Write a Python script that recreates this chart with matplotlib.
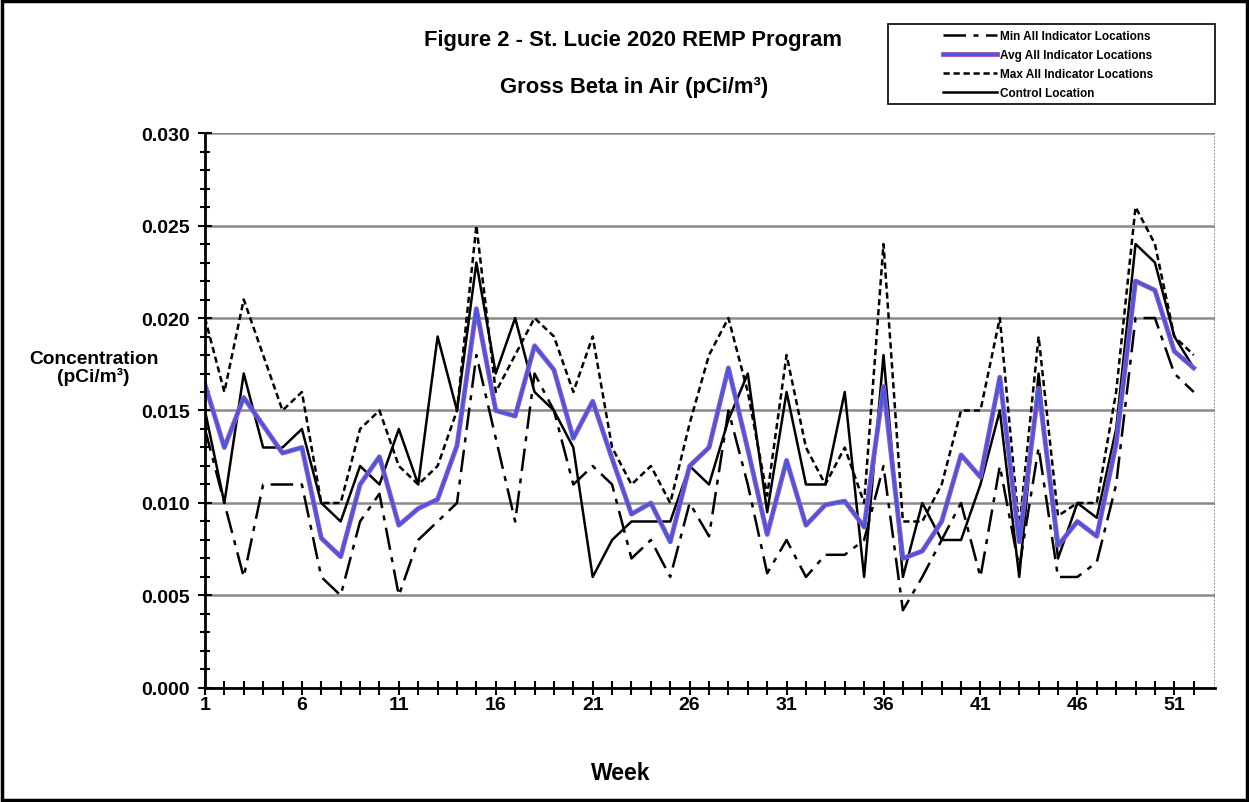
import numpy as np
import matplotlib
matplotlib.use("Agg")
import matplotlib.pyplot as plt
import matplotlib.patheffects as pe
from matplotlib.lines import Line2D
from matplotlib.patches import Rectangle
from matplotlib.ticker import MultipleLocator, FixedLocator, FormatStrFormatter

plt.rcParams['font.family'] = ['Liberation Sans', 'DejaVu Sans']

weeks = np.arange(1, 53)

min_all = [0.014, 0.010, 0.006, 0.011, 0.011, 0.011, 0.006, 0.005, 0.009, 0.0105,
           0.005, 0.008, 0.009, 0.010, 0.018, 0.0135, 0.009, 0.017, 0.015, 0.011,
           0.012, 0.011, 0.007, 0.008, 0.006, 0.010, 0.0082, 0.015, 0.011, 0.0062,
           0.008, 0.006, 0.0072, 0.0072, 0.008, 0.012, 0.0042, 0.006, 0.008, 0.010,
           0.006, 0.012, 0.0065, 0.013, 0.006, 0.006, 0.0068, 0.011, 0.020, 0.020,
           0.017, 0.016]

avg_all = [0.0164, 0.0130, 0.0157, 0.0142, 0.0127, 0.0130, 0.0081, 0.0071, 0.0110, 0.0125,
           0.0088, 0.0097, 0.0102, 0.0131, 0.0205, 0.0150, 0.0147, 0.0185, 0.0172, 0.0135,
           0.0155, 0.0124, 0.0094, 0.0100, 0.0079, 0.0120, 0.0130, 0.0173, 0.0129, 0.0083,
           0.0123, 0.0088, 0.0099, 0.0101, 0.0087, 0.0163, 0.0070, 0.0074, 0.0090, 0.0126,
           0.0114, 0.0168, 0.0079, 0.0162, 0.0077, 0.0090, 0.0082, 0.0132, 0.0220, 0.0215,
           0.0182, 0.0173]

max_all = [0.020, 0.016, 0.021, 0.018, 0.015, 0.016, 0.010, 0.010, 0.014, 0.015,
           0.012, 0.011, 0.012, 0.015, 0.025, 0.016, 0.018, 0.020, 0.019, 0.016,
           0.019, 0.013, 0.011, 0.012, 0.010, 0.0143, 0.018, 0.020, 0.016, 0.0104,
           0.018, 0.013, 0.011, 0.013, 0.010, 0.024, 0.009, 0.009, 0.011, 0.015,
           0.015, 0.020, 0.0086, 0.019, 0.0093, 0.010, 0.010, 0.016, 0.026, 0.024,
           0.019, 0.018]

control = [0.015, 0.010, 0.017, 0.013, 0.013, 0.014, 0.010, 0.009, 0.012, 0.011,
           0.014, 0.011, 0.019, 0.015, 0.023, 0.017, 0.020, 0.016, 0.015, 0.013,
           0.006, 0.008, 0.009, 0.009, 0.009, 0.012, 0.011, 0.0145, 0.017, 0.0095,
           0.016, 0.011, 0.011, 0.016, 0.006, 0.018, 0.006, 0.010, 0.008, 0.008,
           0.011, 0.015, 0.006, 0.017, 0.007, 0.010, 0.0092, 0.014, 0.024, 0.023,
           0.019, 0.0173]

week_labels = [1, 6, 11, 16, 21, 26, 31, 36, 41, 46, 51]

fig = plt.figure(figsize=(12.49, 8.03), dpi=100)
ax = fig.add_axes([0.1641, 0.142, 0.8087, 0.6911])

avg_fx = [pe.Stroke(linewidth=3.5, foreground='#a055b8'), pe.Normal()]
mindash = (0, (9, 3, 2, 3))
maxdash = (0, (2.5, 1.5))

ax.plot(weeks, min_all, color='black', lw=1.8, ls=mindash)
ax.plot(weeks, max_all, color='black', lw=1.8, ls=maxdash)
ax.plot(weeks, control, color='black', lw=1.8)
ax.plot(weeks, avg_all, color='#3f5ae6', lw=2.0, path_effects=avg_fx)

ax.set_xlim(1, 53.1)
ax.set_ylim(0, 0.030)
ax.yaxis.set_major_locator(MultipleLocator(0.005))
ax.yaxis.set_minor_locator(MultipleLocator(0.001))
ax.yaxis.set_major_formatter(FormatStrFormatter('%.3f'))
ax.xaxis.set_major_locator(FixedLocator(week_labels))
ax.xaxis.set_minor_locator(FixedLocator(weeks))
ax.tick_params(axis='both', which='major', labelsize=14)
for lab in ax.get_xticklabels() + ax.get_yticklabels():
    lab.set_fontweight('bold')
ax.tick_params(axis='both', which='both', direction='inout', width=1.5)
ax.tick_params(axis='y', which='major', length=10, pad=6)
ax.tick_params(axis='y', which='minor', length=7)
ax.tick_params(axis='x', which='both', length=10, pad=1)
ax.grid(axis='y', which='major', color='#8a8a8a', lw=1.8)
ax.set_axisbelow(True)
for s in ['top', 'right']:
    ax.spines[s].set_visible(False)
ax.spines['left'].set_linewidth(2)
ax.spines['bottom'].set_linewidth(2)
ax.axvline(53.1, color='#5a7a9a', lw=1.2, ls=(0, (1, 1)))

fig.text(0.507, 0.950, 'Figure 2 - St. Lucie 2020 REMP Program', ha='center',
         va='center', fontsize=15.8, fontweight='bold')
fig.text(0.508, 0.891, 'Gross Beta in Air (pCi/m\u00b3)', ha='center',
         va='center', fontsize=15.8, fontweight='bold')
fig.text(0.075, 0.541, 'Concentration\n(pCi/m\u00b3)', ha='center', va='center',
         fontsize=13.8, fontweight='bold', linespacing=1.05)
fig.text(0.497, 0.037, 'Week', ha='center', va='center', fontsize=16.5,
         fontweight='bold')

# legend box
fig.patches.append(Rectangle((0.711, 0.869), 0.262, 0.0996, transform=fig.transFigure,
                             fill=False, edgecolor='black', lw=1.2))
handles = [
    Line2D([], [], color='black', lw=1.8, ls=mindash),
    Line2D([], [], color='#3f5ae6', lw=2.0, path_effects=avg_fx),
    Line2D([], [], color='black', lw=1.8, ls=maxdash),
    Line2D([], [], color='black', lw=1.8),
]
labels = ['Min All Indicator Locations', 'Avg All Indicator Locations',
          'Max All Indicator Locations', 'Control Location']
fig.legend(handles, labels, loc='upper left', bbox_to_anchor=(0.748, 0.972),
           frameon=False, handlelength=4.6, handletextpad=0.25, labelspacing=0.6,
           borderpad=0.2, prop={'weight': 'bold', 'size': 8.5})

fig.patches.append(Rectangle((0.002, 0.002), 0.996, 0.996, transform=fig.transFigure,
                             fill=False, edgecolor='black', lw=2.5))

fig.savefig('out.png', dpi=100)
